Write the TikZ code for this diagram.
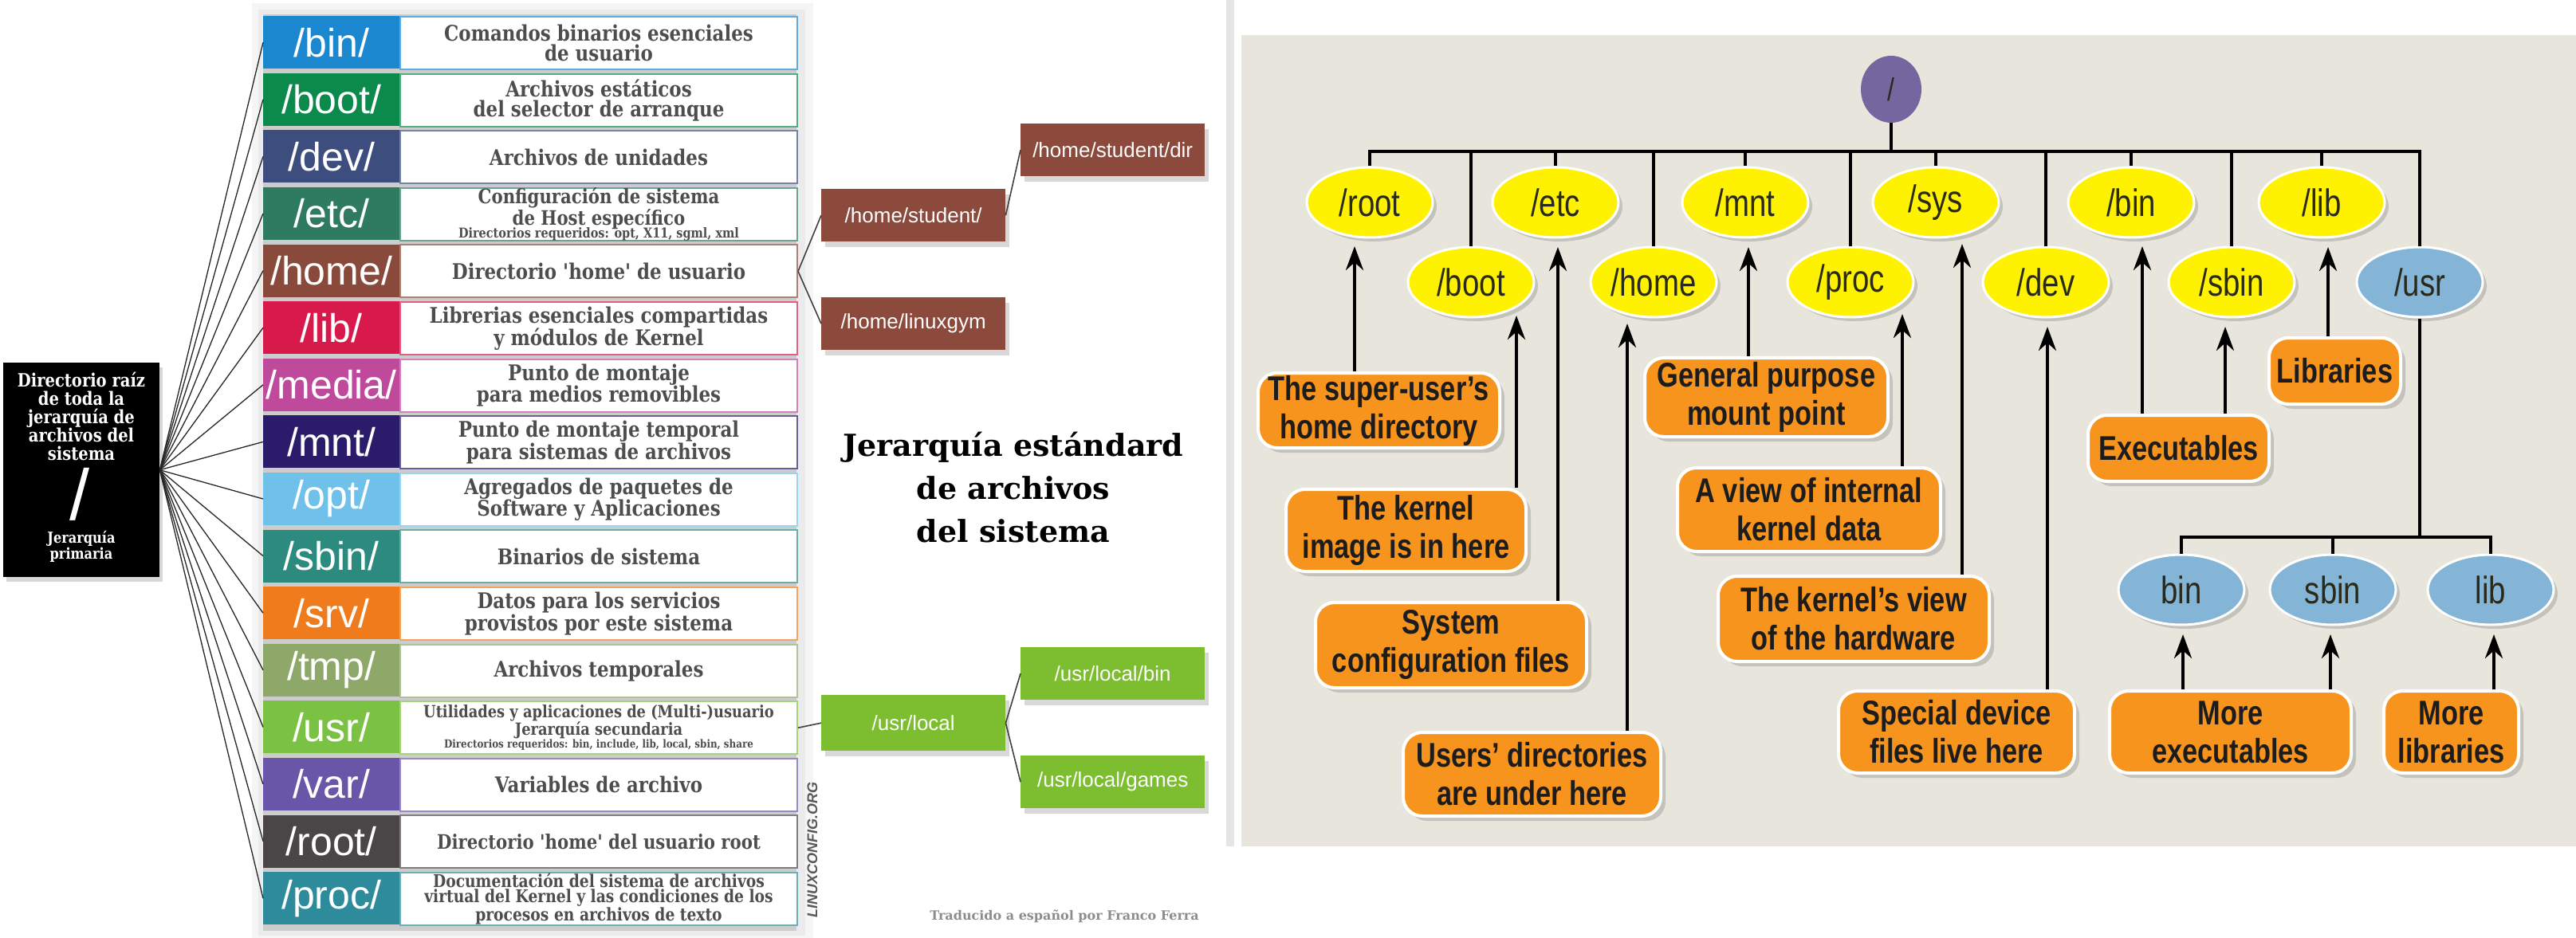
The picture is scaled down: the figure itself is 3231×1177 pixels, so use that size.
\documentclass[tikz,border=0pt]{standalone}
\usepackage{fontspec}
\setmainfont{DejaVu Serif}
\newfontfamily\descfont{DejaVu Serif}[FakeStretch=0.85]
\newfontfamily\labfont{Liberation Sans}
\newfontfamily\condfont{Liberation Sans}[FakeStretch=0.8]
\usetikzlibrary{shapes.geometric,shadows,arrows.meta,calc}
\definecolor{cbin}{HTML}{1B87CF}
\definecolor{cboot}{HTML}{0B8A4C}
\definecolor{cdev}{HTML}{3D4E7E}
\definecolor{cetc}{HTML}{2F7B62}
\definecolor{chome}{HTML}{8A4A3B}
\definecolor{clib}{HTML}{D7194B}
\definecolor{cmedia}{HTML}{BF4A9C}
\definecolor{cmnt}{HTML}{2A1B6B}
\definecolor{copt}{HTML}{6FC1EA}
\definecolor{csbin}{HTML}{2C8B7E}
\definecolor{csrv}{HTML}{EF7B1C}
\definecolor{ctmp}{HTML}{8EA86A}
\definecolor{cusr}{HTML}{7BC143}
\definecolor{cvar}{HTML}{6A56A8}
\definecolor{croot}{HTML}{4A4546}
\definecolor{cproc}{HTML}{2E8B9B}
\definecolor{descgray}{HTML}{4D4D4D}
\definecolor{dirYellow}{HTML}{FFF200}
\definecolor{dirBlue}{HTML}{84B4D6}
\definecolor{dirPurple}{HTML}{76669F}
\definecolor{dirOrange}{HTML}{F7941E}
\definecolor{beige}{HTML}{E8E6DC}
\definecolor{ellText}{HTML}{2A2A1A}
\definecolor{oraText}{HTML}{1C1C1C}
\definecolor{homeBrown}{HTML}{8C4A3C}
\definecolor{usrGreen}{HTML}{7DBE31}
\tikzset{
  lab/.style={anchor=north west, minimum width=171pt, minimum height=66pt, inner sep=0pt,
    text=white, font=\labfont\fontsize{50}{50}\selectfont},
  desc/.style={anchor=north west, fill=white, draw=#1!70, line width=2pt,
    minimum width=498pt, minimum height=66pt, inner sep=0pt, align=center, text=descgray,
    font=\descfont\bfseries\fontsize{27}{25}\selectfont},
  fan/.style={line width=1.3pt, black!85},
  conn/.style={line width=1.6pt, black!75},
  subbox/.style={anchor=north west, minimum width=231pt, minimum height=66pt, inner sep=0pt,
    text=white, font=\labfont\fontsize{26}{26}\selectfont,
    drop shadow={shadow xshift=5pt, shadow yshift=-7pt, opacity=0.3}},
  yel/.style={ellipse, fill=dirYellow, draw=white, line width=3pt, minimum width=158pt,
    minimum height=88pt, inner sep=0pt, text=ellText, font=\condfont\fontsize{48}{48}\selectfont,
    drop shadow={shadow xshift=5pt, shadow yshift=-5pt, opacity=0.35}},
  blu/.style={yel, fill=dirBlue},
  ora/.style={anchor=north west, rounded corners=24pt, fill=dirOrange, draw=white, line width=4pt,
    inner sep=0pt, align=center, text=oraText, font=\condfont\bfseries\fontsize{43}{48}\selectfont,
    drop shadow={shadow xshift=6pt, shadow yshift=-6pt, opacity=0.35}},
  tree/.style={line width=4.5pt, black},
  arr/.style={line width=4.5pt, black, -{Stealth[length=30pt,width=22pt]}},
}
\newcommand\dirrow[5]{%
  \node[lab, fill=#3] (lab#1) at (330,{20+71.6*(#1-1)}) {#2};
  \node[desc=#3,#4] (desc#1) at (501,{20+71.6*(#1-1)}) {#5};
  \draw[fan] (rootbox.east) -- (lab#1.west);
}
\begin{document}
\begin{tikzpicture}[x=1pt,y=-1pt]
\useasboundingbox (0,0) rectangle (3231,1177);
\fill[white] (0,0) rectangle (3231,1177);
% ---------- left panel ----------
\fill[black!4] (316,4) rectangle (1020,1177);
\fill[black!8] (324,12) rectangle (1010,1174);
\fill[black!20] (330,18) rectangle (999,1168);
\fill[black!10] (1538,0) rectangle (1548,1062);
\node[fill=black, minimum width=196pt, minimum height=269pt, inner sep=0pt, anchor=north west,
  drop shadow={shadow xshift=4pt, shadow yshift=-6pt, opacity=0.3}] (rootbox) at (4,455) {};
\node[text=white, align=center, font=\descfont\bfseries\fontsize{23}{23}\selectfont] (rtext) at (102,522)
  {Directorio raíz\\de toda la\\jerarquía de\\archivos del\\sistema};
\node[text=white, font=\labfont\fontsize{90}{90}\selectfont] (rslash) at (100,620) {/};
\node[text=white, align=center, font=\descfont\bfseries\fontsize{19}{20}\selectfont] (rprim) at (102,686)
  {Jerarquía\\primaria};
\dirrow{1}{/bin/}{cbin}{}{Comandos binarios esenciales\\de usuario}
\dirrow{2}{/boot/}{cboot}{}{Archivos estáticos\\del selector de arranque}
\dirrow{3}{/dev/}{cdev}{}{Archivos de unidades}
\dirrow{4}{/etc/}{cetc}{font=\descfont\bfseries\fontsize{25}{22}\selectfont}{Configuración de sistema\\de Host específico\\[-6pt]{\fontsize{17}{15}\selectfont Directorios requeridos: opt, X11, sgml, xml}}
\dirrow{5}{/home/}{chome}{}{Directorio 'home' de usuario}
\dirrow{6}{/lib/}{clib}{}{Librerias esenciales compartidas\\y módulos de Kernel}
\dirrow{7}{/media/}{cmedia}{}{Punto de montaje\\para medios removibles}
\dirrow{8}{/mnt/}{cmnt}{}{Punto de montaje temporal\\para sistemas de archivos}
\dirrow{9}{/opt/}{copt}{}{Agregados de paquetes de\\Software y Aplicaciones}
\dirrow{10}{/sbin/}{csbin}{}{Binarios de sistema}
\dirrow{11}{/srv/}{csrv}{}{Datos para los servicios\\provistos por este sistema}
\dirrow{12}{/tmp/}{ctmp}{}{Archivos temporales}
\dirrow{13}{/usr/}{cusr}{font=\descfont\bfseries\fontsize{21}{21}\selectfont}{Utilidades y aplicaciones de (Multi-)usuario\\Jerarquía secundaria\\[-5pt]{\fontsize{14}{12}\selectfont Directorios requeridos: bin, include, lib, local, sbin, share}}
\dirrow{14}{/var/}{cvar}{}{Variables de archivo}
\dirrow{15}{/root/}{croot}{font=\descfont\bfseries\fontsize{25}{24}\selectfont}{Directorio 'home' del usuario root}
\dirrow{16}{/proc/}{cproc}{font=\descfont\bfseries\fontsize{22}{19}\selectfont}{Documentación del sistema de archivos\\virtual del Kernel y las condiciones de los\\procesos en archivos de texto}
% sub boxes
\node[subbox, fill=homeBrown] (hsd) at (1280,155) {/home/student/dir};
\node[subbox, fill=homeBrown] (hs) at (1030,237) {/home/student/};
\node[subbox, fill=homeBrown] (hl) at (1030,373) {/home/linuxgym};
\node[subbox, fill=usrGreen] (ulb) at (1280,812) {/usr/local/bin};
\node[subbox, fill=usrGreen, minimum height=70pt] (ul) at (1030,872) {/usr/local};
\node[subbox, fill=usrGreen] (ulg) at (1280,948) {/usr/local/games};
\draw[conn] (desc5.east) -- (hs.west);
\draw[conn] (desc5.east) -- (hl.west);
\draw[conn] (hs.east) -- (hsd.west);
\draw[conn] (desc13.east) -- (ul.west);
\draw[conn] (ul.east) -- (ulb.west);
\draw[conn] (ul.east) -- (ulg.west);
\node[align=center, font=\bfseries\fontsize{38}{54}\selectfont] (title) at (1271,612)
  {Jerarquía estándard\\de archivos\\del sistema};
\node[rotate=90, text=black!65, font=\labfont\bfseries\itshape\fontsize{18}{18}\selectfont] (lc) at (1019,1066) {LINUXCONFIG.ORG};
\node[text=black!45, font=\bfseries\fontsize{16}{16}\selectfont] (trad) at (1335,1150) {Traducido a español por Franco Ferra};
% ---------- right panel ----------
\fill[beige] (1557,44) rectangle (3231,1062);
\node[ellipse, fill=dirPurple, minimum width=76pt, minimum height=84pt, inner sep=0pt,
  text=ellText, font=\condfont\fontsize{40}{40}\selectfont] (slash) at (2372,112) {/};
\node[yel] (rootE) at (1718,254) {/root};
\node[yel] (etc) at (1951,254) {/etc};
\node[yel] (mnt) at (2189,254) {/mnt};
\node[yel] (sys) at (2428,254) {/sys};
\node[yel] (bin) at (2673,254) {/bin};
\node[yel] (lib) at (2912,254) {/lib};
\node[yel] (boot) at (1845,354) {/boot};
\node[yel] (home) at (2074,354) {/home};
\node[yel] (proc) at (2321,354) {/proc};
\node[yel] (dev) at (2566,354) {/dev};
\node[yel] (sbin) at (2799,354) {/sbin};
\node[blu] (usr) at (3035,354) {/usr};
\node[blu] (ubin) at (2736,740) {bin};
\node[blu] (usbin) at (2926,740) {sbin};
\node[blu] (ulib) at (3124,740) {lib};
\coordinate (busY) at (2372,190);
\coordinate (subY) at (3035,674);
\draw[tree] (slash) -- (busY);
\draw[tree] (rootE) -- (rootE |- busY) -- (usr |- busY) -- (usr);
\foreach \n in {etc,mnt,sys,bin,lib,boot,home,proc,dev,sbin} \draw[tree] (\n |- busY) -- (\n);
\draw[tree] (usr) -- (subY);
\draw[tree] (ubin) -- (ubin |- subY) -- (ulib |- subY) -- (ulib);
\draw[tree] (usbin |- subY) -- (usbin);
% callouts
\node[ora, minimum width=303pt, minimum height=94pt] (su) at (1576,466) {The super-user’s\\home directory};
\node[ora, minimum width=301pt, minimum height=103pt] (kimg) at (1611,612) {The kernel\\image is in here};
\node[ora, minimum width=340pt, minimum height=107pt] (scfg) at (1648,754) {System\\configuration files};
\node[ora, minimum width=323pt, minimum height=105pt] (udir) at (1758,917) {Users’ directories\\are under here};
\node[ora, minimum width=305pt, minimum height=99pt] (gpm) at (2061,447) {General purpose\\mount point};
\node[ora, minimum width=330pt, minimum height=105pt] (vik) at (2102,585) {A view of internal\\kernel data};
\node[ora, minimum width=340pt, minimum height=107pt] (kvh) at (2153,721) {The kernel’s view\\of the hardware};
\node[ora, minimum width=296pt, minimum height=103pt] (sdf) at (2304,865) {Special device\\files live here};
\node[ora, minimum width=227pt, minimum height=83pt] (exe) at (2617,519) {Executables};
\node[ora, minimum width=165pt, minimum height=83pt] (libs) at (2844,422) {Libraries};
\node[ora, minimum width=303pt, minimum height=103pt] (mexe) at (2644,865) {More\\executables};
\node[ora, minimum width=169pt, minimum height=103pt] (mlib) at (2988,865) {More\\libraries};
% arrow tips
\coordinate (aRoot) at ($(rootE)+(-19,55)$);
\coordinate (aBoot) at ($(boot)+(57,42)$);
\coordinate (aEtc) at ($(etc)+(3,56)$);
\coordinate (aHome) at ($(home)+(-33,52)$);
\coordinate (aMnt) at ($(mnt)+(4,56)$);
\coordinate (aProc) at ($(proc)+(65,40)$);
\coordinate (aSys) at ($(sys)+(33,52)$);
\coordinate (aDev) at ($(dev)+(2,56)$);
\coordinate (aBin) at ($(bin)+(14,55)$);
\coordinate (aSbin) at ($(sbin)+(-8,56)$);
\coordinate (aLib) at ($(lib)+(8,56)$);
\coordinate (aUbin) at ($(ubin)+(2,56)$);
\coordinate (aUsbin) at ($(usbin)+(-3,56)$);
\coordinate (aUlib) at ($(ulib)+(4,56)$);
\draw[arr] (su.north -| aRoot) -- (aRoot);
\draw[arr] (kimg.north -| aBoot) -- (aBoot);
\draw[arr] (scfg.north -| aEtc) -- (aEtc);
\draw[arr] (udir.north -| aHome) -- (aHome);
\draw[arr] (gpm.north -| aMnt) -- (aMnt);
\draw[arr] (vik.north -| aProc) -- (aProc);
\draw[arr] (kvh.north -| aSys) -- (aSys);
\draw[arr] (sdf.north -| aDev) -- (aDev);
\draw[arr] (exe.north -| aBin) -- (aBin);
\draw[arr] (exe.north -| aSbin) -- (aSbin);
\draw[arr] (libs.north -| aLib) -- (aLib);
\draw[arr] (mexe.north -| aUbin) -- (aUbin);
\draw[arr] (mexe.north -| aUsbin) -- (aUsbin);
\draw[arr] (mlib.north -| aUlib) -- (aUlib);
\end{tikzpicture}
\end{document}
